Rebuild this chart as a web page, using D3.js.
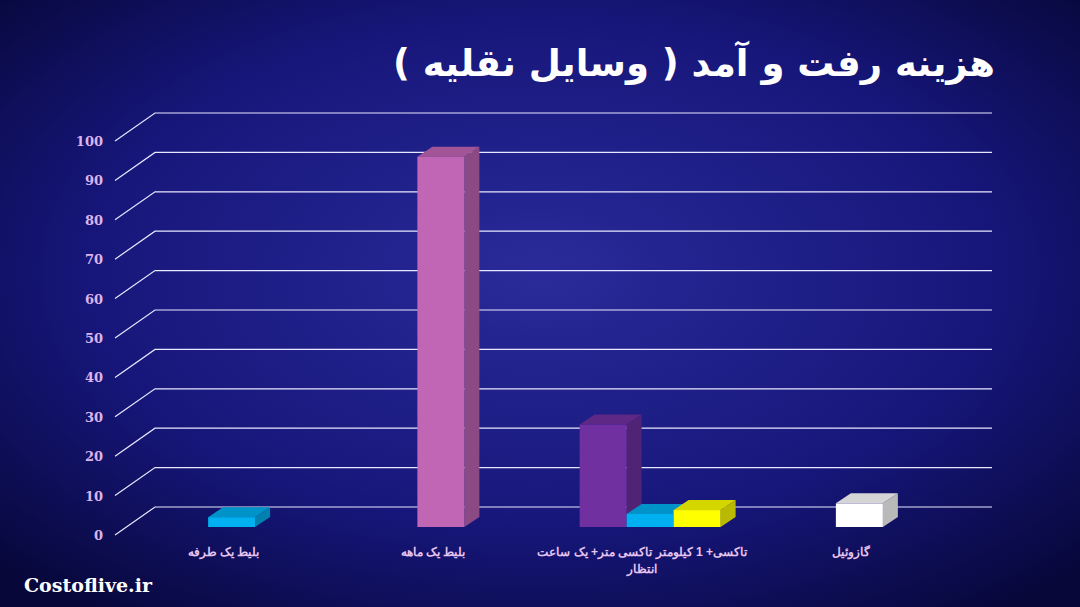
<!DOCTYPE html>
<html><head><meta charset="utf-8">
<script src="https://cdn.jsdelivr.net/npm/d3@7"></script>
<style>body{margin:0;background:#0b0b45}svg{display:block}</style>
</head><body>
<script>
var categories = ['بلیط یک طرفه','بلیط یک ماهه','تاکسی+ 1 کیلومتر تاکسی متر+ یک ساعت انتظار','گازوئیل']
var labelLines = [['بلیط یک طرفه'],['بلیط یک ماهه'],['تاکسی+ 1 کیلومتر تاکسی متر+ یک ساعت','انتظار'],['گازوئیل']]
var values = [[2.5],[94],[26,3.3,4.3],[6]]
var barColors = [['#00b0f0'],['#c066b4'],['#7030a0','#00b0f0','#ffff00'],['#ffffff']]
var ticks = [0,10,20,30,40,50,60,70,80,90,100]

var W=1080,H=607
var svg=d3.select('body').append('svg').attr('width',W).attr('height',H)
var defs=svg.append('defs')
var g=defs.append('radialGradient').attr('id','bg').attr('cx','50%').attr('cy','45%').attr('r','70%')
g.append('stop').attr('offset','0%').attr('stop-color','#2a2a9a')
g.append('stop').attr('offset','60%').attr('stop-color','#16167a')
g.append('stop').attr('offset','100%').attr('stop-color','#07073a')
svg.append('rect').attr('width',W).attr('height',H).attr('fill','url(#bg)')

// 3D-ish geometry
var dx=40,dy=-28
var y=d3.scaleLinear().domain([0,100]).range([535,141])
var x=d3.scaleBand().domain(categories).range([115,952])
// grid: front stub + back line
ticks.forEach(function(t){
	var yy=y(t)
	svg.append('path').attr('d','M115,'+yy+'L'+(115+dx)+','+(yy+dy)+'L992,'+(yy+dy))
		.attr('fill','none').attr('stroke','#e8e8ff').attr('stroke-width',1.2)
	svg.append('text').attr('x',103).attr('y',yy+5).attr('text-anchor','end')
		.attr('font-family','DejaVu Serif').attr('font-weight','bold').attr('font-size',13)
		.attr('fill','#dcb4ec').text(t)
})

var bw=47,bdx=15,bdy=-10,shift=12
var yb=d3.scaleLinear().domain([0,100]).range([527,133])
categories.forEach(function(c,i){
	var vs=values[i],n=vs.length
	var cx=x(c)+x.bandwidth()/2+shift
	var x0=cx-n*bw/2
	vs.forEach(function(v,j){
		var col=d3.color(barColors[i][j])
		var bx=x0+j*bw,top=yb(v),bot=yb(0)
		svg.append('path').attr('d','M'+(bx+bw)+','+bot+'L'+(bx+bw+bdx)+','+(bot+bdy)+'L'+(bx+bw+bdx)+','+(top+bdy)+'L'+(bx+bw)+','+top+'Z')
			.attr('fill',col.darker(0.9))
		svg.append('path').attr('d','M'+bx+','+top+'L'+(bx+bdx)+','+(top+bdy)+'L'+(bx+bw+bdx)+','+(top+bdy)+'L'+(bx+bw)+','+top+'Z')
			.attr('fill',col.darker(0.5))
		svg.append('rect').attr('x',bx).attr('y',top).attr('width',bw).attr('height',bot-top).attr('fill',col)
	})
	labelLines[i].forEach(function(l,k){
		svg.append('text').attr('x',cx-8).attr('y',556+k*17).attr('text-anchor','middle').attr('direction','rtl')
			.attr('font-family','Liberation Sans').attr('font-weight','bold').attr('font-size',12)
			.attr('fill','#e6c4ee').text(l)
	})
})

svg.append('text').attr('x',995).attr('y',76).attr('text-anchor','start').attr('direction','rtl')
	.attr('font-family','DejaVu Sans').attr('font-weight','bold').attr('font-size',37)
	.attr('fill','#fff').text('هزینه رفت و آمد ( وسایل نقلیه )')
svg.append('text').attr('x',24).attr('y',592)
	.attr('font-family','DejaVu Serif').attr('font-weight','bold').attr('font-size',19)
	.attr('fill','#fff').text('Costoflive.ir')
</script>
</body></html>
